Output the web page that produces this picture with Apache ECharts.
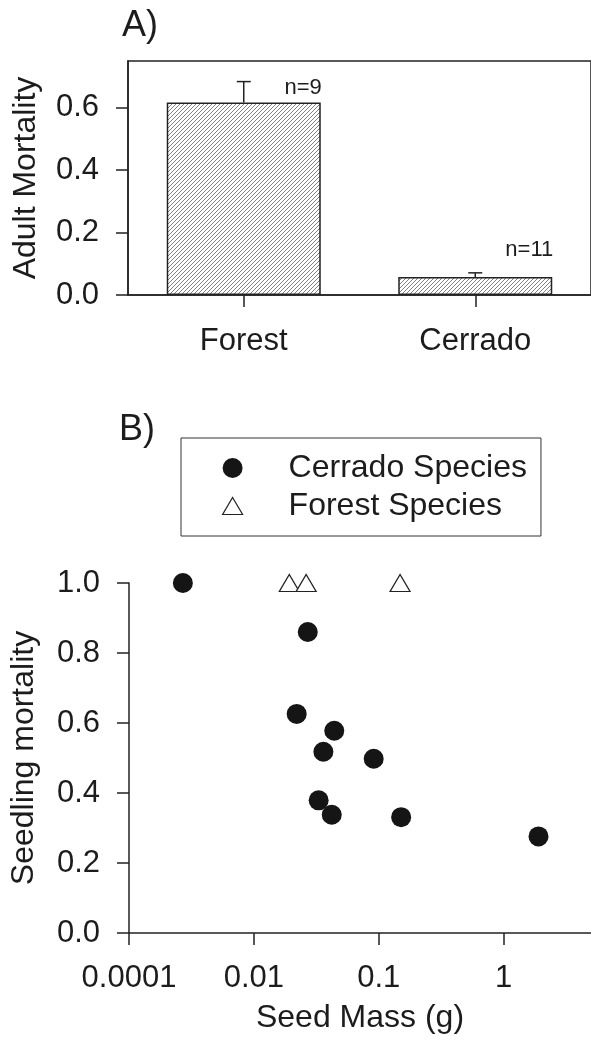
<!DOCTYPE html>
<html><head><meta charset="utf-8">
<script src="https://cdn.jsdelivr.net/npm/echarts@6/dist/echarts.min.js"></script>
<style>html,body{margin:0;padding:0;background:#fff}#c{width:591px;height:1041px}</style>
</head><body><div id="c"></div>
<script>
// ---- Panel A data ----
const categories = ['Forest', 'Cerrado'];
const adultMortality = [0.617, 0.058];
const adultError = [0.067, 0.013];
const sampleSizes = ['n=9', 'n=11'];
const adultTicks = [0, 0.2, 0.4, 0.6];

// ---- Panel B data ----
const cerradoMass = [0.0027, 0.027, 0.022, 0.044, 0.036, 0.091, 0.033, 0.042, 0.151, 1.9];
const cerradoMort = [1.0, 0.86, 0.626, 0.578, 0.518, 0.498, 0.379, 0.338, 0.331, 0.276];
const forestMass = [0.0192, 0.0262, 0.148];
const forestMort = [1.0, 1.0, 1.0];
const massTickValues = [0.001, 0.01, 0.1, 1];
const massTickLabels = ['0.0001', '0.01', '0.1', '1'];

const FONT = '"Liberation Sans", Arial, Helvetica, sans-serif';
const INK = '#1c1c1c';
const LINE = '#222';

// hatch pattern
const pat = document.createElement('canvas');
pat.width = 4; pat.height = 4;
const pc = pat.getContext('2d');
pc.fillStyle = '#fff'; pc.fillRect(0, 0, 4, 4);
pc.strokeStyle = '#555'; pc.lineWidth = 0.75;
pc.beginPath();
pc.moveTo(0, 4); pc.lineTo(4, 0);
pc.moveTo(-1, 1); pc.lineTo(1, -1);
pc.moveTo(3, 5); pc.lineTo(5, 3);
pc.stroke();

const chart = echarts.init(document.getElementById('c'), null, {renderer: 'canvas'});

const axisLine = {show: true, onZero: false, lineStyle: {color: LINE, width: 1.5}};
const axisTick = {show: true, length: 12, lineStyle: {color: LINE, width: 1.5}};
const labelStyle = {fontSize: 31, color: INK, fontFamily: FONT};

function massLabel(v) {
  const k = massTickValues.findIndex(t => Math.abs(Math.log10(t) - Math.log10(v)) < 1e-6);
  return k < 0 ? '' : massTickLabels[k];
}

// legend triangle icon: a 20x17 triangle centred in a 102x20 icon box
const legendTriangle = 'path://M0,0 M102,20 M51,1.5 L61,18.5 L41,18.5 Z';

const option = {
  animation: false,
  backgroundColor: '#fff',
  textStyle: {fontFamily: FONT},
  title: [
    {text: 'A)', left: 122, top: 8, padding: 0, textStyle: {fontSize: 36, fontWeight: 'normal', color: INK, fontFamily: FONT}},
    {text: 'B)', left: 119, top: 412, padding: 0, textStyle: {fontSize: 36, fontWeight: 'normal', color: INK, fontFamily: FONT}}
  ],
  legend: {
    orient: 'vertical', left: 181, top: 438, padding: [12, 14, 12, 0],
    itemWidth: 102, itemHeight: 20, itemGap: 2,
    borderColor: '#333', borderWidth: 1,
    selectedMode: false,
    textStyle: {fontSize: 32, lineHeight: 36, color: INK, fontFamily: FONT},
    data: [
      {name: 'Cerrado Species'},
      {name: 'Forest Species', icon: legendTriangle, itemStyle: {color: '#fff', borderColor: LINE, borderWidth: 1.2}}
    ]
  },
  grid: [
    {left: 128, top: 61, right: -5, bottom: 746, show: true, borderColor: LINE, borderWidth: 1.5, backgroundColor: 'transparent'},
    {left: 128, top: 583, right: -3, bottom: 108}
  ],
  xAxis: [
    {type: 'category', gridIndex: 0, data: categories,
      axisLine: axisLine, axisTick: Object.assign({alignWithLabel: true}, axisTick),
      axisLabel: Object.assign({margin: 31}, labelStyle), splitLine: {show: false}},
    {type: 'log', logBase: 10, gridIndex: 1, min: 0.001, max: 5,
      axisLine: axisLine, axisTick: axisTick, minorTick: {show: false},
      axisLabel: Object.assign({margin: 30, formatter: massLabel, showMaxLabel: false}, labelStyle),
      splitLine: {show: false},
      name: 'Seed Mass (g)', nameLocation: 'middle', nameGap: 69,
      nameTextStyle: {fontSize: 32, color: INK, fontFamily: FONT}}
  ],
  yAxis: [
    {type: 'value', gridIndex: 0, min: 0, max: 0.75,
      axisLine: axisLine,
      axisTick: Object.assign({customValues: adultTicks}, axisTick),
      axisLabel: Object.assign({margin: 29, customValues: adultTicks, formatter: v => v.toFixed(1)}, labelStyle),
      splitLine: {show: false},
      name: 'Adult Mortality', nameLocation: 'middle', nameGap: 86,
      nameTextStyle: {fontSize: 32, color: INK, fontFamily: FONT}},
    {type: 'value', gridIndex: 1, min: 0, max: 1, interval: 0.2,
      axisLine: axisLine, axisTick: axisTick,
      axisLabel: Object.assign({margin: 29, formatter: v => v.toFixed(1)}, labelStyle),
      splitLine: {show: false},
      name: 'Seedling mortality', nameLocation: 'middle', nameGap: 89,
      nameTextStyle: {fontSize: 32, color: INK, fontFamily: FONT}}
  ],
  series: [
    {type: 'bar', xAxisIndex: 0, yAxisIndex: 0, barWidth: 154,
      data: adultMortality,
      itemStyle: {color: {image: pat, repeat: 'repeat'}, borderColor: LINE, borderWidth: 1.5}},
    {type: 'custom', xAxisIndex: 0, yAxisIndex: 0, z: 5,
      data: categories.map((c, i) => [i, adultMortality[i], adultError[i]]),
      renderItem: function (params, api) {
        const i = api.value(0), m = api.value(1), e = api.value(2);
        const base = api.coord([i, m]);
        const top = api.coord([i, m + e]);
        const hw = 7;
        // label placement (layout only): offset from cap
        const labelDy = [6, -23][params.dataIndex];
        const right = base[0] + 78;
        return {type: 'group', children: [
          {type: 'line', shape: {x1: base[0], y1: base[1], x2: top[0], y2: top[1]}, style: {stroke: LINE, lineWidth: 1.5}},
          {type: 'line', shape: {x1: top[0] - hw, y1: top[1], x2: top[0] + hw, y2: top[1]}, style: {stroke: LINE, lineWidth: 1.5}},
          {type: 'text', x: right, y: top[1] + labelDy, style: {text: sampleSizes[params.dataIndex], fontSize: 22, fontFamily: FONT, fill: INK, align: 'right', verticalAlign: 'middle', textAlign: 'right', textVerticalAlign: 'middle'}}
        ]};
      }},
    {type: 'scatter', name: 'Cerrado Species', xAxisIndex: 1, yAxisIndex: 1,
      symbol: 'circle', symbolSize: 20, z: 4,
      data: cerradoMass.map((x, i) => [x, cerradoMort[i]]),
      itemStyle: {color: '#151515', opacity: 1}},
    {type: 'scatter', name: 'Forest Species', xAxisIndex: 1, yAxisIndex: 1,
      symbol: 'triangle', symbolSize: [20, 17], z: 3,
      data: forestMass.map((x, i) => [x, forestMort[i]]),
      itemStyle: {color: '#fff', borderColor: LINE, borderWidth: 1.2, opacity: 1}}
  ]
};
chart.setOption(option);
</script>
</body></html>
